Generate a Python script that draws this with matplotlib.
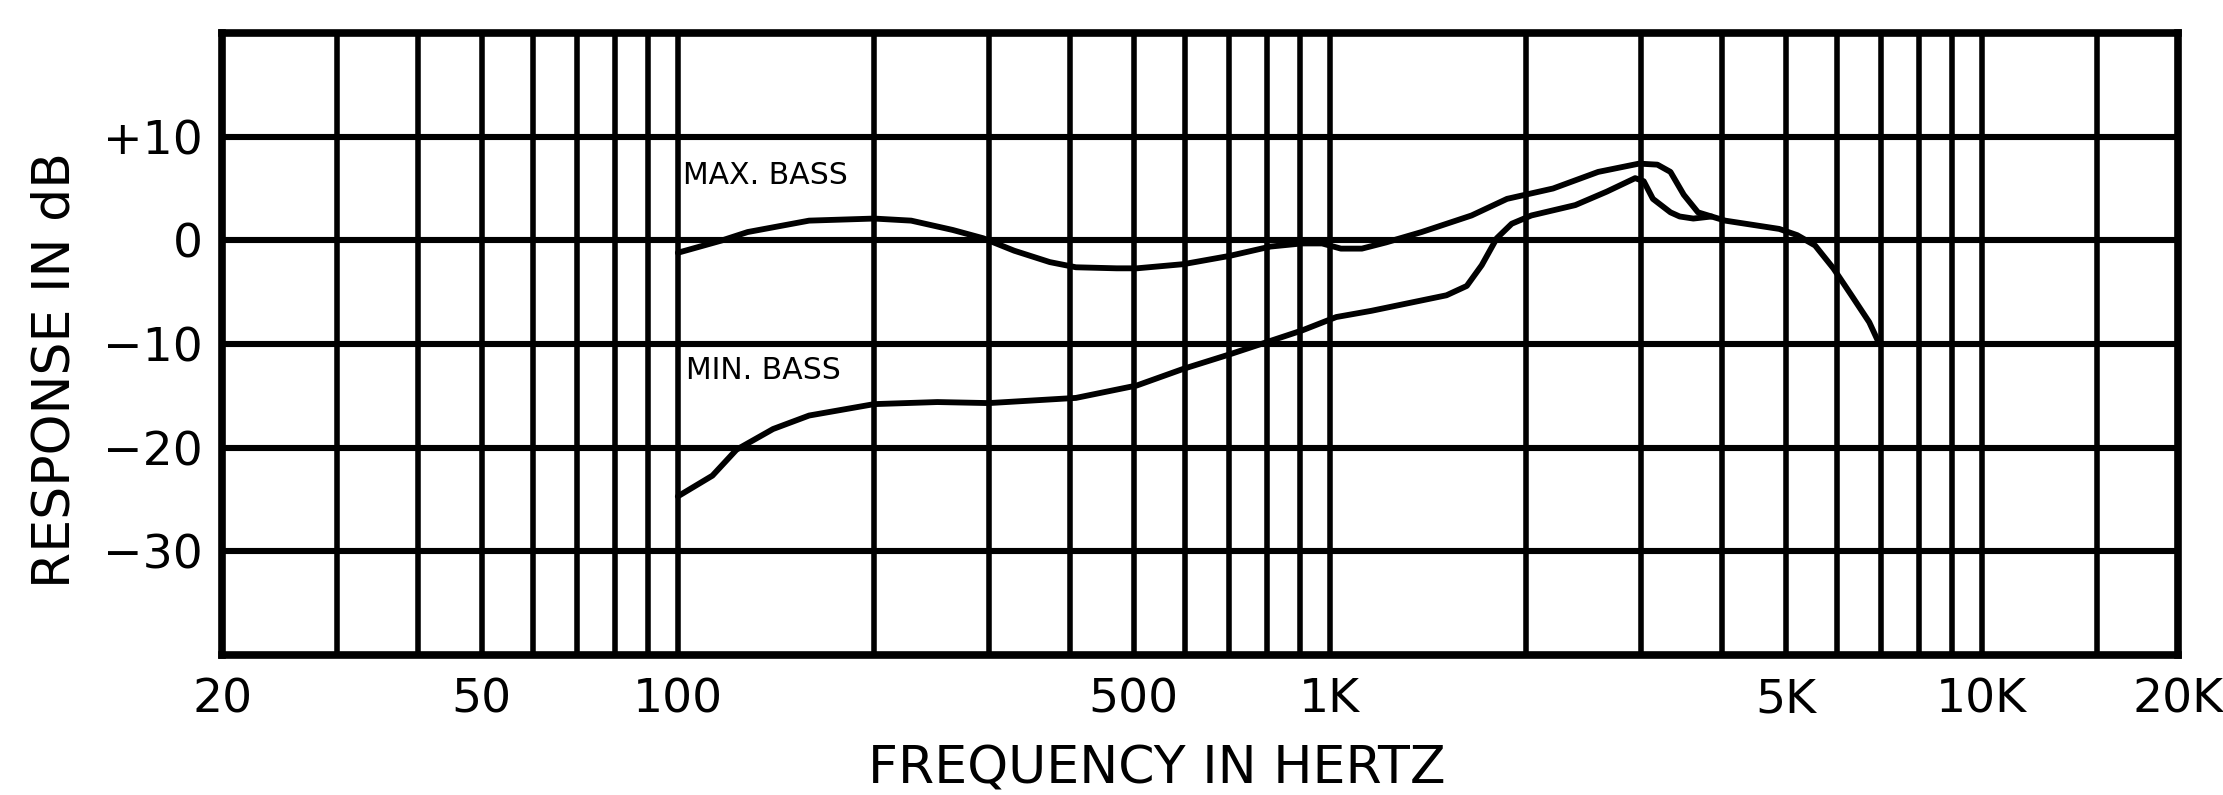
import matplotlib
matplotlib.use("Agg")
import matplotlib.pyplot as plt
from matplotlib.ticker import NullFormatter

# readings: frequency [Hz] and response [dB]
max_bass_freq = [100, 117, 128, 159, 200, 228, 264, 294, 328, 372, 408, 471,
                 506, 596, 702, 811, 906, 973, 1040, 1120, 1220, 1383, 1650,
                 1870, 2200, 2580, 2980, 3180, 3330, 3490, 3670, 3850, 4040,
                 4890, 5210, 5550, 5920, 6310, 6720, 6940]
max_bass_db = [-1.2, 0.0, 0.8, 1.9, 2.1, 1.9, 1.0, 0.2, -1.0, -2.1, -2.6, -2.7,
               -2.7, -2.3, -1.5, -0.6, -0.3, -0.3, -0.8, -0.8, -0.2, 0.8, 2.4,
               4.0, 5.0, 6.6, 7.4, 7.3, 6.6, 4.4, 2.7, 2.3, 1.9,
               1.1, 0.5, -0.5, -2.7, -5.3, -7.9, -9.8]

min_bass_freq = [100, 113, 123, 140, 159, 200, 250, 300, 408, 506, 596, 702,
                 811, 906, 1023, 1158, 1510, 1622, 1710, 1803, 1901, 2038,
                 2380, 2660, 2940, 3030, 3130, 3330, 3440, 3610, 3850]
min_bass_db = [-24.7, -22.7, -20.2, -18.2, -16.9, -15.8, -15.6, -15.7, -15.2,
               -14.0, -12.4, -11.0, -9.7, -8.7, -7.4, -6.8, -5.3, -4.4, -2.4,
               0.2, 1.6, 2.4, 3.4, 4.7, 6.0, 5.7, 4.0, 2.7, 2.3, 2.1, 2.3]

x_grid = [30, 40, 50, 60, 70, 80, 90, 100,
          200, 300, 400, 500, 600, 700, 800, 900, 1000,
          2000, 3000, 4000, 5000, 6000, 7000, 8000, 9000, 10000, 15000]
x_ticks = [20, 50, 100, 500, 1000, 5000, 10000, 20000]
x_labels = ['20', '50', '100', '500', '1K', '5K', '10K', '20K']
y_ticks = [-30, -20, -10, 0, 10]
y_labels = ['\u221230', '\u221220', '\u221210', '0', '+10']

fig = plt.figure(figsize=(22.23, 7.95), dpi=100)
ax = fig.add_axes([0.0999, 0.1761, 0.8799, 0.7824])

ax.set_xscale('log')
ax.set_xlim(20, 20000)
ax.set_ylim(-40, 20)

ax.xaxis.remove_overlapping_locs = False
ax.set_xticks(x_ticks, x_labels)
ax.set_xticks(x_grid, minor=True)
ax.xaxis.set_minor_formatter(NullFormatter())
ax.set_yticks(y_ticks, y_labels)

ax.grid(True, which='minor', axis='x', color='k', lw=4.0)
ax.grid(True, which='major', axis='y', color='k', lw=4.4)
ax.tick_params(which='both', length=0, labelsize=34)
ax.tick_params(axis='x', pad=16)
ax.tick_params(axis='y', pad=14)
for sp in ax.spines.values():
    sp.set_linewidth(5.5)

ax.plot(max_bass_freq, max_bass_db, color='k', lw=4.2,
        solid_joinstyle='round', solid_capstyle='round')
ax.plot(min_bass_freq, min_bass_db, color='k', lw=4.2,
        solid_joinstyle='round', solid_capstyle='round')

ax.text(102, 6.3, 'MAX. BASS', fontsize=21.5, ha='left', va='center')
ax.text(103, -12.6, 'MIN. BASS', fontsize=21.5, ha='left', va='center')

ax.set_xlabel('FREQUENCY IN HERTZ', fontsize=37.5, x=0.478, va='center')
ax.xaxis.set_label_coords(0.478, -0.184)
ax.set_ylabel('RESPONSE IN dB', fontsize=37.5, va='center')
ax.yaxis.set_label_coords(-0.085, 0.458)

fig.savefig('out.png', dpi=100)
